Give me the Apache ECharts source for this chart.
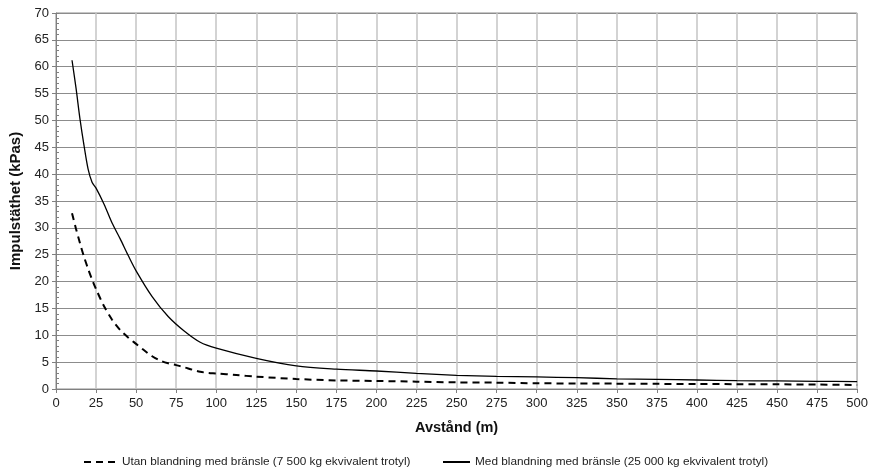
<!DOCTYPE html>
<html>
<head>
<meta charset="utf-8">
<script src="https://cdn.jsdelivr.net/npm/echarts@6/dist/echarts.min.js"></script>
<style>html,body{margin:0;padding:0;background:#fff}#c{width:871px;height:470px}</style>
</head>
<body>
<div id="c"></div>
<script>
const seriesNames = [
  'Utan blandning med bränsle (7 500 kg ekvivalent trotyl)',
  'Med blandning med bränsle (25 000 kg ekvivalent trotyl)'
];
const xTitle = 'Avstånd (m)';
const yTitle = 'Impulstäthet (kPas)';

const utanX = [10, 12.5, 15, 17.5, 20, 22.5, 25, 30, 35, 40, 45, 50, 55, 60, 65, 70, 75, 80, 85, 90, 95, 100, 112.5, 125, 150, 175, 200, 225, 250, 275, 300, 325, 350, 375, 400, 425, 450, 475, 500];
const utanY = [32.7, 29.8, 27.1, 24.6, 22.4, 20.4, 18.6, 15.4, 12.9, 11.0, 9.6, 8.4, 7.2, 6.1, 5.3, 4.8, 4.45, 4.05, 3.6, 3.2, 3.0, 2.9, 2.6, 2.3, 1.86, 1.6, 1.5, 1.37, 1.24, 1.18, 1.07, 1.03, 1.0, 0.96, 0.93, 0.9, 0.87, 0.82, 0.75];

const medX = [10, 12.5, 15, 17.5, 20, 22.5, 25, 30, 35, 40, 45, 50, 60, 70, 80, 90, 100, 125, 150, 175, 200, 225, 250, 275, 300, 325, 350, 375, 400, 425, 450, 475, 500];
const medY = [61.2, 56.0, 50.2, 45.3, 41.0, 38.5, 37.4, 34.4, 30.9, 28.0, 24.9, 22.0, 17.2, 13.5, 10.8, 8.7, 7.6, 5.7, 4.3, 3.7, 3.35, 2.9, 2.55, 2.35, 2.25, 2.1, 1.9, 1.8, 1.68, 1.55, 1.5, 1.43, 1.37];

const pairs = (xs, ys) => xs.map((x, i) => [x, ys[i]]);

const font = 'Liberation Sans, Arial, sans-serif';
const chart = echarts.init(document.getElementById('c'), null, {renderer: 'canvas'});
const legendCommon = {
  itemHeight: 10,
  itemStyle: {opacity: 0},
  textStyle: {fontFamily: font, fontSize: 11.8, color: '#222'}
};
chart.setOption({
  animation: false,
  backgroundColor: '#ffffff',
  textStyle: {fontFamily: font},
  grid: {left: 56, right: 11, top: 13, bottom: 81, show: true, borderColor: '#8c8c8c', borderWidth: 1, backgroundColor: 'transparent'},
  legend: [
    Object.assign({data: [seriesNames[0]], left: 78, top: 451, itemWidth: 33, itemGap: 3}, legendCommon),
    Object.assign({data: [seriesNames[1]], left: 437, top: 451, itemWidth: 27, itemGap: 3}, legendCommon)
  ],
  xAxis: {
    type: 'value', min: 0, max: 500, interval: 25,
    name: xTitle, nameLocation: 'middle', nameGap: 31,
    nameTextStyle: {fontFamily: font, fontSize: 14.5, fontWeight: 'bold', color: '#111'},
    axisLine: {show: true, lineStyle: {color: '#808080', width: 1}},
    axisTick: {show: true, length: 4, lineStyle: {color: '#808080'}},
    axisLabel: {fontFamily: font, fontSize: 13, color: '#222', margin: 8},
    splitLine: {show: true, lineStyle: {color: '#c4c4c4', width: 1.5}}
  },
  yAxis: [
    {
      type: 'value', min: 0, max: 70, interval: 5,
      name: yTitle, nameLocation: 'middle', nameGap: 33,
      nameTextStyle: {fontFamily: font, fontSize: 15, fontWeight: 'bold', color: '#111'},
      axisLine: {show: true, lineStyle: {color: '#808080', width: 1}},
      axisTick: {show: true, length: 4, lineStyle: {color: '#808080'}},
      axisLabel: {fontFamily: font, fontSize: 13, color: '#222', margin: 7},
      splitLine: {show: true, lineStyle: {color: '#8c8c8c', width: 1}}
    },
    {
      type: 'value', min: 0, max: 70, interval: 5, position: 'left',
      axisLine: {show: false},
      axisTick: {show: true, inside: true, length: 3, lineStyle: {color: '#808080'}},
      minorTick: {show: true, splitNumber: 5, length: 3, lineStyle: {color: '#808080'}},
      axisLabel: {show: false},
      splitLine: {show: false}
    }
  ],
  series: [
    {
      name: seriesNames[0], type: 'line', data: pairs(utanX, utanY),
      symbol: 'none', smooth: 0.3,
      lineStyle: {color: '#000', width: 2, type: [7, 5]},
      itemStyle: {color: '#000'}
    },
    {
      name: seriesNames[1], type: 'line', data: pairs(medX, medY),
      symbol: 'none', smooth: 0.3,
      lineStyle: {color: '#000', width: 1.3, type: 'solid'},
      itemStyle: {color: '#000'}
    }
  ]
});
</script>
</body>
</html>
